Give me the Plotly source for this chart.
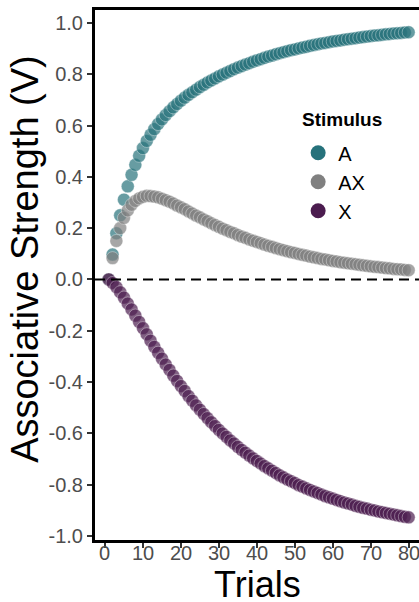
import plotly.graph_objects as go

trials = list(range(1, 81))

v_a = [0.000, 0.097, 0.180, 0.250, 0.311, 0.363, 0.408, 0.447, 0.482, 0.512,
       0.540, 0.564, 0.586, 0.606, 0.624, 0.641, 0.656, 0.671, 0.684, 0.697,
       0.709, 0.720, 0.730, 0.740, 0.750, 0.759, 0.768, 0.776, 0.784, 0.792,
       0.799, 0.806, 0.813, 0.820, 0.826, 0.832, 0.838, 0.843, 0.849, 0.854,
       0.859, 0.864, 0.869, 0.873, 0.878, 0.882, 0.886, 0.890, 0.894, 0.897,
       0.901, 0.904, 0.907, 0.911, 0.914, 0.917, 0.920, 0.922, 0.925, 0.928,
       0.930, 0.932, 0.935, 0.937, 0.939, 0.941, 0.943, 0.945, 0.947, 0.949,
       0.951, 0.952, 0.954, 0.956, 0.957, 0.959, 0.960, 0.961, 0.963, 0.964]

v_ax = [0.000, 0.083, 0.150, 0.200, 0.240, 0.269, 0.291, 0.306, 0.316, 0.322,
        0.326, 0.325, 0.323, 0.320, 0.315, 0.309, 0.303, 0.296, 0.288, 0.281,
        0.274, 0.265, 0.257, 0.249, 0.242, 0.234, 0.227, 0.219, 0.212, 0.205,
        0.198, 0.192, 0.185, 0.180, 0.173, 0.167, 0.162, 0.156, 0.151, 0.146,
        0.141, 0.136, 0.131, 0.127, 0.122, 0.118, 0.114, 0.110, 0.106, 0.103,
        0.099, 0.096, 0.093, 0.089, 0.086, 0.083, 0.080, 0.078, 0.075, 0.072,
        0.070, 0.067, 0.065, 0.063, 0.061, 0.059, 0.057, 0.055, 0.053, 0.051,
        0.049, 0.048, 0.046, 0.044, 0.043, 0.041, 0.040, 0.039, 0.037, 0.036]

v_x = [0.000, -0.014, -0.030, -0.050, -0.071, -0.094, -0.117, -0.141, -0.166, -0.190,
       -0.214, -0.239, -0.263, -0.286, -0.309, -0.332, -0.353, -0.375, -0.396, -0.416,
       -0.435, -0.455, -0.473, -0.491, -0.508, -0.525, -0.541, -0.557, -0.572, -0.587,
       -0.601, -0.614, -0.628, -0.640, -0.653, -0.665, -0.676, -0.687, -0.698, -0.708,
       -0.718, -0.728, -0.737, -0.746, -0.755, -0.764, -0.772, -0.780, -0.787, -0.794,
       -0.802, -0.808, -0.815, -0.821, -0.827, -0.833, -0.839, -0.845, -0.850, -0.855,
       -0.860, -0.865, -0.870, -0.874, -0.878, -0.883, -0.887, -0.891, -0.894, -0.898,
       -0.901, -0.905, -0.908, -0.911, -0.914, -0.917, -0.920, -0.923, -0.926, -0.928]

stimuli = ["A", "AX", "X"]
colors = {"A": "#26727B", "AX": "#808080", "X": "#4B1C4F"}
fills = {"A": "rgba(38,114,123,0.7)", "AX": "rgba(128,128,128,0.7)", "X": "rgba(75,28,79,0.7)"}
series = {"A": v_a, "AX": v_ax, "X": v_x}

x_ticks = [0, 10, 20, 30, 40, 50, 60, 70, 80]
x_ticktext = [str(v) for v in x_ticks]
y_ticks = [-1.0, -0.8, -0.6, -0.4, -0.2, 0.0, 0.2, 0.4, 0.6, 0.8, 1.0]
y_ticktext = [f"{v:.1f}" for v in y_ticks]

FONT = "Liberation Sans, Arial, Helvetica, sans-serif"
TICK_GREY = "#4D4D4D"

fig = go.Figure()
for s in stimuli:
    fig.add_trace(go.Scatter(
        x=trials, y=series[s], mode="markers", name=s, showlegend=False,
        marker=dict(size=13, color=fills[s],
                    line=dict(color="rgba(255,255,255,0.45)", width=0.8)),
    ))
# legend entries (opaque keys)
for i, s in enumerate(stimuli):
    fig.add_trace(go.Scatter(
        x=[None], y=[None], mode="markers", name=s, showlegend=True,
        legendgroup=f"g{i}",
        marker=dict(size=15, color=colors[s]),
    ))

fig.add_hline(y=0, line=dict(color="black", width=2, dash="10px,6px"))

annotations = [
    dict(text="Trials", x=0.5, y=-0.084, xref="paper", yref="paper",
         xanchor="center", yanchor="middle", showarrow=False,
         font=dict(size=36, color="black", family=FONT)),
    dict(text="Associative Strength (V)", x=-0.2145, y=0.5295,
         xref="paper", yref="paper", textangle=-90,
         xanchor="center", yanchor="middle", showarrow=False,
         font=dict(size=38, color="black", family=FONT)),
    dict(text="<b>Stimulus</b>", x=0.7614, y=0.7938, xref="paper", yref="paper",
         xanchor="center", yanchor="middle", showarrow=False,
         font=dict(size=19, color="black", family=FONT)),
]
for v, t in zip(x_ticks, x_ticktext):
    annotations.append(dict(
        text=t, x=v, y=-0.0245, xref="x", yref="paper",
        xanchor="center", yanchor="middle", showarrow=False,
        font=dict(size=20, color=TICK_GREY, family=FONT)))

fig.update_layout(
    width=419, height=602,
    margin=dict(l=95, r=0, t=10, b=62),
    plot_bgcolor="white", paper_bgcolor="white",
    font=dict(family=FONT),
    legend=dict(
        x=0.627, y=0.7675, xanchor="left", yanchor="top",
        bgcolor="rgba(0,0,0,0)",
        font=dict(size=20, color="black", family=FONT),
        itemsizing="trace", tracegroupgap=0,
    ),
    annotations=annotations,
)

fig.update_xaxes(
    range=[-2.63, 82.73], tickvals=x_ticks, showticklabels=False,
    showgrid=False, zeroline=False,
    showline=True, linecolor="black", linewidth=3, mirror=True,
    ticks="outside", ticklen=5, tickwidth=2, tickcolor="#333333",
)
fig.update_yaxes(
    range=[-1.0164, 1.0507], tickvals=y_ticks, ticktext=y_ticktext,
    showgrid=False, zeroline=False,
    showline=True, linecolor="black", linewidth=3, mirror=False,
    ticks="outside", ticklen=5, tickwidth=2, tickcolor="#333333",
    tickfont=dict(size=20, color=TICK_GREY, family=FONT),
)

fig.write_html("out.html", config={"displayModeBar": False},
               post_script="document.body.style.margin='0';document.body.style.padding='0';")
